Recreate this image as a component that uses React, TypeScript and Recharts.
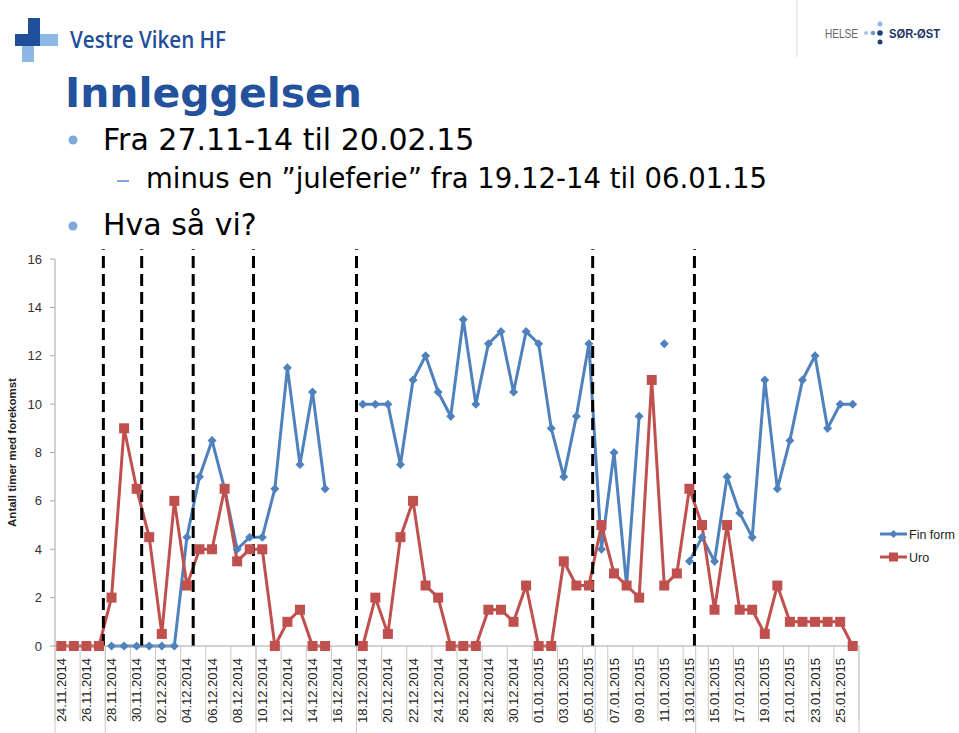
import React from "react";
import {
  LineChart,
  Line,
  XAxis,
  YAxis,
  ReferenceLine,
} from "recharts";

// Dates shown on the category axis (one point per day)
const dates = [
  "24.11.2014", "25.11.2014", "26.11.2014", "27.11.2014", "28.11.2014", "29.11.2014",
  "30.11.2014", "01.12.2014", "02.12.2014", "03.12.2014", "04.12.2014", "05.12.2014",
  "06.12.2014", "07.12.2014", "08.12.2014", "09.12.2014", "10.12.2014", "11.12.2014",
  "12.12.2014", "13.12.2014", "14.12.2014", "15.12.2014", "16.12.2014", "17.12.2014",
  "18.12.2014", "19.12.2014", "20.12.2014", "21.12.2014", "22.12.2014", "23.12.2014",
  "24.12.2014", "25.12.2014", "26.12.2014", "27.12.2014", "28.12.2014", "29.12.2014",
  "30.12.2014", "31.12.2014", "01.01.2015", "02.01.2015", "03.01.2015", "04.01.2015",
  "05.01.2015", "06.01.2015", "07.01.2015", "08.01.2015", "09.01.2015", "10.01.2015",
  "11.01.2015", "12.01.2015", "13.01.2015", "14.01.2015", "15.01.2015", "16.01.2015",
  "17.01.2015", "18.01.2015", "19.01.2015", "20.01.2015", "21.01.2015", "22.01.2015",
  "23.01.2015", "24.01.2015", "25.01.2015", "26.01.2015",
];

const finForm = [
  null, null, null, null, 0, 0, 0, 0, 0, 0,
  4.5, 7, 8.5, 6.5, 4, 4.5, 4.5, 6.5, 11.5, 7.5,
  10.5, 6.5, null, null, 10, 10, 10, 7.5, 11, 12,
  10.5, 9.5, 13.5, 10, 12.5, 13, 10.5, 13, 12.5, 9,
  7, 9.5, 12.5, 4, 8, 2.5, 9.5, null, 12.5, null,
  3.5, 4.5, 3.5, 7, 5.5, 4.5, 11, 6.5, 8.5, 11,
  12, 9, 10, 10,
];

const uro = [
  0, 0, 0, 0, 2, 9, 6.5, 4.5, 0.5, 6,
  2.5, 4, 4, 6.5, 3.5, 4, 4, 0, 1, 1.5,
  0, 0, null, null, 0, 2, 0.5, 4.5, 6, 2.5,
  2, 0, 0, 0, 1.5, 1.5, 1, 2.5, 0, 0,
  3.5, 2.5, 2.5, 5, 3, 2.5, 2, 11, 2.5, 3,
  6.5, 5, 1.5, 5, 1.5, 1.5, 0.5, 2.5, 1, 1,
  1, 1, 1, 0,
];

const yTicks = [0, 2, 4, 6, 8, 10, 12, 14, 16];
// every second date gets a label
const labelIdx = [
  0, 2, 4, 6, 8, 10, 12, 14, 16, 18, 20, 22, 24, 26, 28, 30,
  32, 34, 36, 38, 40, 42, 44, 46, 48, 50, 52, 54, 56, 58, 60, 62,
];
// hand drawn dashed markers on the slide (in category units)
const dashedAt = [3.35, 6.4, 10.5, 15.3, 23.5, 42.3, 50.4];
// longer grey separators below the axis
const longSepAt = [-0.5, 3.5, 15.5, 23.5, 42.5, 50.5, 63.5];
const sepAt = [
  -0.5, 1.5, 3.5, 5.5, 7.5, 9.5, 11.5, 13.5, 15.5, 17.5, 19.5, 21.5, 23.5, 25.5,
  27.5, 29.5, 31.5, 33.5, 35.5, 37.5, 39.5, 41.5, 43.5, 45.5, 47.5, 49.5, 51.5,
  53.5, 55.5, 57.5, 59.5, 61.5, 63.5,
];

const BLUE = "#4F81BD";
const RED = "#C0504D";
const chartFont = "'Liberation Sans', Arial, sans-serif";
const slideFont = "'DejaVu Sans', Verdana, sans-serif";

const data = dates.map((d, i) => ({ idx: i, date: d, fin: finForm[i], uro: uro[i] }));

const Diamond = (props: any) => {
  const { cx, cy, index } = props;
  if (cx == null || cy == null || props.value == null) return <g key={`fd-${index}`} />;
  return (
    <path
      key={`fd-${index}`}
      d={`M${cx},${cy - 4.5}L${cx + 4.5},${cy}L${cx},${cy + 4.5}L${cx - 4.5},${cy}Z`}
      fill={BLUE}
    />
  );
};

const Square = (props: any) => {
  const { cx, cy, index } = props;
  if (cx == null || cy == null || props.value == null) return <g key={`us-${index}`} />;
  return <rect key={`us-${index}`} x={cx - 5} y={cy - 5} width={10} height={10} fill={RED} />;
};

const DateTick = (props: any) => {
  const { x, y, payload } = props;
  return (
    <g transform={`translate(${x},${y})`}>
      <text
        transform="rotate(-90)"
        x={-4}
        y={0}
        dy="0.35em"
        textAnchor="end"
        fontSize={13}
        fontFamily={chartFont}
        fill="#222"
      >
        {dates[payload.value]}
      </text>
    </g>
  );
};

const LegendBox = () => (
  <svg width={80} height={40} style={{ position: "absolute", left: 879, top: 524 }}>
    <line x1={1} y1={10} x2={28} y2={10} stroke={BLUE} strokeWidth={3} />
    <path d="M14.5,6L18.5,10L14.5,14L10.5,10Z" fill={BLUE} />
    <text x={30} y={14.5} fontSize={12.5} fontFamily={chartFont} fill="#222">Fin form</text>
    <line x1={1} y1={33} x2={28} y2={33} stroke={RED} strokeWidth={3} />
    <rect x={10} y={28.5} width={9} height={9} fill={RED} />
    <text x={30} y={37.5} fontSize={12.5} fontFamily={chartFont} fill="#222">Uro</text>
  </svg>
);

const Header = () => (
  <svg width={959} height={250} style={{ position: "absolute", left: 0, top: 0 }}>
    {/* Vestre Viken cross */}
    <rect x={28} y={18} width={12} height={17} fill="#1F4E9A" />
    <rect x={15} y={34} width={25} height={12} fill="#1F4E9A" />
    <rect x={40} y={34} width={18} height={12} fill="#8DB8E6" />
    <rect x={22} y={46} width={12} height={16} fill="#8DB8E6" />
    <text x={70} y={48} fontSize={23} fontWeight={600} fontFamily="'Open Sans', sans-serif" fill="#1F4E9A"
      textLength={156} lengthAdjust="spacingAndGlyphs">Vestre Viken HF</text>
    <line x1={797} y1={0} x2={797} y2={57} stroke="#D8D8D8" strokeWidth={1} />
    <text x={825} y={38} fontSize={12} fontFamily={chartFont} fill="#666" textLength={33}
      lengthAdjust="spacingAndGlyphs">HELSE</text>
    <circle cx={880} cy={24} r={2.5} fill="#8DB8E6" />
    <circle cx={866} cy={33} r={2} fill="#A9C4E0" />
    <circle cx={873} cy={33} r={2.3} fill="#6E9BD0" />
    <circle cx={880} cy={33} r={2.8} fill="#1F3F7A" />
    <circle cx={880} cy={42} r={2.5} fill="#1F3F7A" />
    <text x={889} y={38} fontSize={12} fontWeight={700} fontFamily={chartFont} fill="#1F3366"
      textLength={51} lengthAdjust="spacingAndGlyphs">SØR-ØST</text>

    <text x={65} y={107} fontSize={40} fontWeight={700} fontFamily={slideFont} fill="#24519C"
      textLength={297} lengthAdjust="spacingAndGlyphs">Innleggelsen</text>
    <circle cx={73} cy={140} r={4.5} fill="#7FA9DA" />
    <text x={103} y={150} fontSize={30} fontFamily={slideFont} fill="#000">Fra 27.11-14 til 20.02.15</text>
    <line x1={117} y1={181} x2={129} y2={181} stroke="#7FA9DA" strokeWidth={2} />
    <text x={146} y={188} fontSize={27.5} fontFamily={slideFont} fill="#000">
      minus en ”juleferie” fra 19.12-14 til 06.01.15
    </text>
    <circle cx={73} cy={226} r={4.5} fill="#7FA9DA" />
    <text x={103} y={235} fontSize={30} fontFamily={slideFont} fill="#000">Hva så vi?</text>
  </svg>
);

export default function App() {
  return (
    <div style={{ position: "absolute", left: 0, top: 0, width: 959, height: 733, background: "#fff", overflow: "hidden" }}>
      <div style={{ position: "absolute", left: 0, top: 240 }}>
        <LineChart
          width={959}
          height={493}
          data={data}
          margin={{ top: 19, right: 100, bottom: 0, left: 7 }}
        >
          <XAxis
            dataKey="idx"
            type="number"
            domain={[-0.5, 63.5]}
            ticks={labelIdx}
            interval={0}
            tickLine={false}
            axisLine={{ stroke: "#A6A6A6" }}
            height={87}
            tick={<DateTick />}
            allowDataOverflow
          />
          <YAxis
            domain={[0, 16]}
            ticks={yTicks}
            width={48}
            tickSize={5}
            tickMargin={8}
            tickLine={{ stroke: "#A6A6A6" }}
            axisLine={{ stroke: "#A6A6A6" }}
            tick={{ fontSize: 13, fontFamily: chartFont, fill: "#333" }}
            label={{
              value: "Antall timer med forekomst",
              angle: -90,
              position: "insideLeft",
              offset: 5,
              style: { textAnchor: "middle", fontSize: 11.5, fontWeight: 700, fontFamily: chartFont, fill: "#222" },
            }}
          />
          {sepAt.map((s) => (
            <ReferenceLine
              key={`sep-${s}`}
              segment={[{ x: s, y: 0 }, { x: s, y: -3.1 }]}
              stroke="#C8C8C8"
              strokeWidth={1}
              ifOverflow="visible"
            />
          ))}
          {longSepAt.map((s) => (
            <ReferenceLine
              key={`lsep-${s}`}
              segment={[{ x: s, y: 0 }, { x: s, y: -3.7 }]}
              stroke="#C8C8C8"
              strokeWidth={1}
              ifOverflow="visible"
            />
          ))}
          <Line
            dataKey="fin"
            name="Fin form"
            stroke={BLUE}
            strokeWidth={3}
            dot={Diamond}
            activeDot={false}
            isAnimationActive={false}
          />
          <Line
            dataKey="uro"
            name="Uro"
            stroke={RED}
            strokeWidth={3}
            dot={Square}
            activeDot={false}
            isAnimationActive={false}
          />
          {dashedAt.map((d) => (
            <ReferenceLine
              key={`dash-${d}`}
              segment={[{ x: d, y: 0 }, { x: d, y: 16.4 }]}
              stroke="#000"
              strokeWidth={3}
              strokeDasharray="12 6"
              ifOverflow="visible"
            />
          ))}
        </LineChart>
      </div>
      <LegendBox />
      <Header />
    </div>
  );
}
